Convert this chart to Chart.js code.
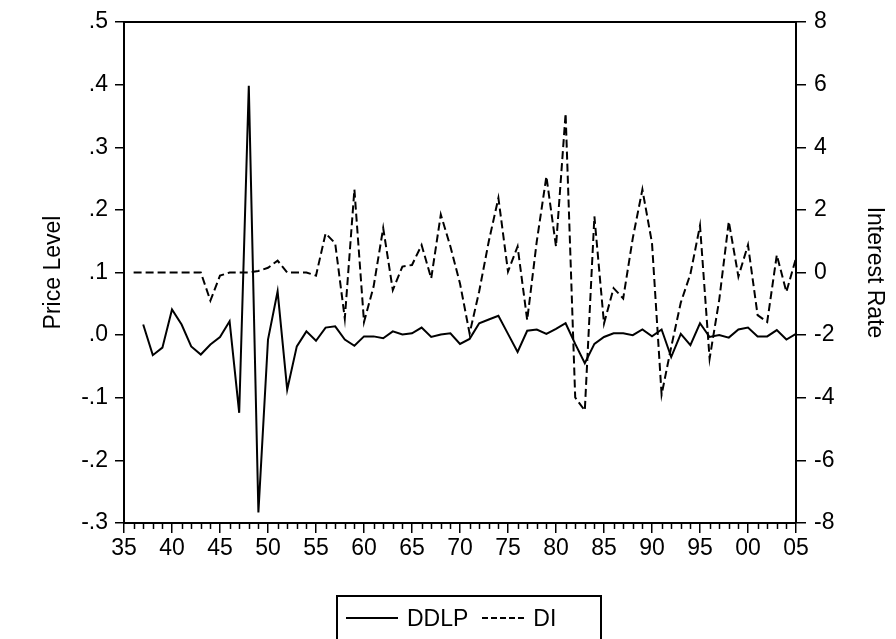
<!DOCTYPE html>
<html>
<head>
<meta charset="utf-8">
<script src="https://cdn.jsdelivr.net/npm/chart.js@4/dist/chart.umd.min.js"></script>
<style>
  body { margin: 0; background: #fff; }
  #wrap { position: relative; width: 896px; height: 639px; }
  #legend {
    position: absolute; left: 336px; top: 595px; width: 266px; height: 44px;
    border: 2px solid #000; border-bottom: none; box-sizing: border-box;
    font: 23px "Liberation Sans", Arial, sans-serif; color: #000;
    display: flex; align-items: center; padding-left: 8px;
  }
  .sw { display: inline-block; width: 52px; height: 0; margin-right: 9px; }
  .solid { border-top: 2px solid #000; }
  .dash { border-top: 2px dashed #000; margin-left: 14px; width: 42px; }
</style>
</head>
<body>
<div id="wrap">
  <canvas id="chart" width="896" height="639"></canvas>
  <div id="legend"><span class="sw solid"></span>DDLP<span class="sw dash"></span>DI</div>
</div>
<script>
const years = [];
for (let y = 1936; y <= 2005; y++) years.push(y);

// DDLP, 1936..2005 (no value for 1936)
const ddlp = [null,
  0.017, -0.032, -0.020, 0.041, 0.017, -0.018, -0.031, -0.015, -0.003, 0.022,
  -0.124, 0.398, -0.283, -0.007, 0.070, -0.087, -0.018, 0.006, -0.009, 0.012,
  0.014, -0.007, -0.017, -0.002, -0.002, -0.005, 0.006, 0.001, 0.003, 0.012,
  -0.003, 0.001, 0.003, -0.014, -0.006, 0.019, 0.025, 0.031, 0.002, -0.027,
  0.007, 0.009, 0.002, 0.010, 0.019, -0.014, -0.045, -0.014, -0.003, 0.003,
  0.003, 0.000, 0.009, -0.002, 0.009, -0.035, 0.002, -0.016, 0.019, -0.003,
  0.000, -0.004, 0.009, 0.012, -0.002, -0.002, 0.008, -0.007, 0.002];

// DI, 1936..2005
const di = [
  0, 0, 0, 0, 0, 0, 0, 0, -0.9, -0.1,
  0, 0, 0, 0.05, 0.15, 0.38, 0, 0, 0, -0.1,
  1.25, 0.93, -1.47, 2.65, -1.58, -0.45, 1.42, -0.56, 0.19, 0.24,
  0.88, -0.19, 1.85, 0.83, -0.35, -1.95, -0.6, 1.0, 2.38, 0.03,
  0.83, -1.52, 1.0, 3.07, 0.83, 5.08, -3.99, -4.41, 1.79, -1.63,
  -0.5, -0.83, 1.1, 2.65, 0.94, -3.9, -2.38, -0.96, -0.05, 1.5,
  -2.75, -0.88, 1.63, -0.13, 0.88, -1.36, -1.58, 0.56, -0.62, 0.46];

const leftTicks = [-0.3, -0.2, -0.1, 0, 0.1, 0.2, 0.3, 0.4, 0.5];
const rightTicks = [-8, -6, -4, -2, 0, 2, 4, 6, 8];

const font = { family: '"Liberation Sans", Arial, sans-serif', size: 23 };
const titleFont = { family: '"Liberation Sans", Arial, sans-serif', size: 23 };

function fmtLeft(v) {
  let s = (Math.round(v * 10) / 10).toFixed(1);
  return s.replace(/^(-?)0\./, '$1.');
}

// frame on top and minor year ticks on the x axis
const frame = {
  id: 'frame',
  afterDraw(chart) {
    const { ctx, chartArea: a } = chart;
    const x = chart.scales.x;
    ctx.save();
    ctx.strokeStyle = '#000';
    ctx.lineWidth = 2;
    ctx.beginPath();
    ctx.moveTo(a.left, a.top);
    ctx.lineTo(a.right, a.top);
    ctx.stroke();
    ctx.lineWidth = 1.5;
    ctx.beginPath();
    for (let y = 1936; y < 2005; y++) {
      if (y % 5 === 0) continue;
      const px = Math.round(x.getPixelForValue(y)) + 0.5;
      ctx.moveTo(px, a.bottom);
      ctx.lineTo(px, a.bottom + 6);
    }
    ctx.stroke();
    ctx.restore();
  }
};

new Chart(document.getElementById('chart'), {
  type: 'line',
  data: {
    datasets: [{
      label: 'DDLP',
      data: years.map((y, i) => ({ x: y, y: ddlp[i] })),
      yAxisID: 'y',
      borderColor: '#000',
      borderWidth: 2,
      pointRadius: 0,
      tension: 0
    }, {
      label: 'DI',
      data: years.map((y, i) => ({ x: y, y: di[i] })),
      yAxisID: 'y1',
      borderColor: '#000',
      borderWidth: 2,
      borderDash: [8, 4],
      pointRadius: 0,
      tension: 0
    }]
  },
  options: {
    responsive: false,
    animation: false,
    layout: { padding: { left: 36, right: 4, top: 22, bottom: 0 } },
    plugins: { legend: { display: false }, tooltip: { enabled: false } },
    scales: {
      x: {
        type: 'linear',
        min: 1935, max: 2005,
        afterBuildTicks: s => { s.ticks = []; for (let y = 1935; y <= 2005; y += 5) s.ticks.push({ value: y }); },
        afterFit: s => { s.height = 116; },
        ticks: {
          color: '#000', font, padding: 2, maxRotation: 0, autoSkip: false,
          callback: v => String(v % 100).padStart(2, '0')
        },
        grid: { drawOnChartArea: false, tickLength: 10, color: '#000', lineWidth: 1.5 },
        border: { color: '#000', width: 2 }
      },
      y: {
        position: 'left',
        min: -0.3, max: 0.5,
        afterBuildTicks: s => { s.ticks = leftTicks.map(v => ({ value: v })); },
        afterFit: s => { s.width = 88; },
        ticks: { color: '#000', font, padding: 7, callback: fmtLeft },
        grid: { drawOnChartArea: false, tickLength: 9, color: '#000', lineWidth: 1.5 },
        border: { color: '#000', width: 2 },
        title: { display: true, text: 'Price Level', color: '#000', font: titleFont }
      },
      y1: {
        position: 'right',
        min: -8, max: 8,
        afterBuildTicks: s => { s.ticks = rightTicks.map(v => ({ value: v })); },
        afterFit: s => { s.width = 96; },
        ticks: { color: '#000', font, padding: 8 },
        grid: { drawOnChartArea: false, tickLength: 10, color: '#000', lineWidth: 1.5 },
        border: { color: '#000', width: 2 },
        title: { display: true, text: 'Interest Rate', color: '#000', font: titleFont }
      }
    }
  },
  plugins: [frame]
});
</script>
</body>
</html>
